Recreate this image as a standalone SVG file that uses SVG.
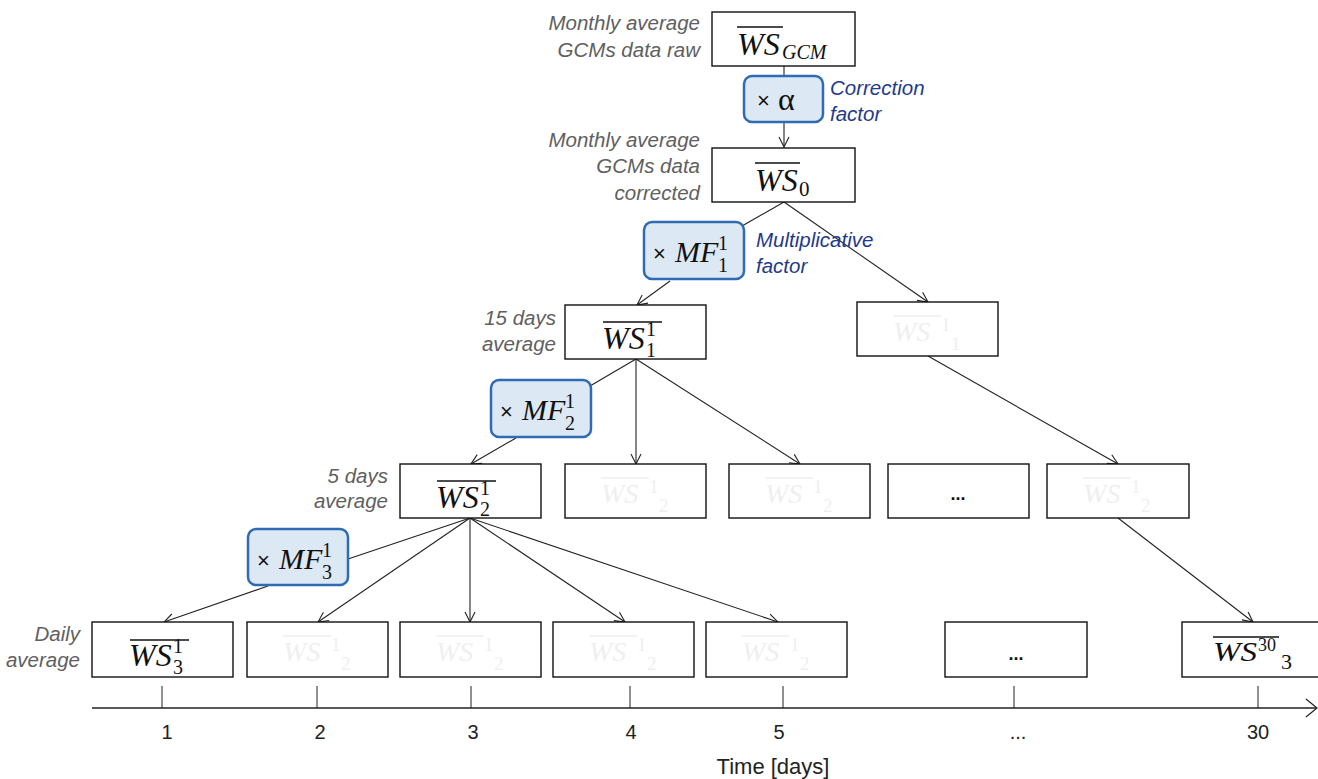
<svg xmlns="http://www.w3.org/2000/svg" width="1318" height="779" viewBox="0 0 1318 779">
<defs>
<marker id="arr" viewBox="0 0 12 12" refX="11" refY="6" markerWidth="12" markerHeight="12" markerUnits="userSpaceOnUse" orient="auto">
<path d="M1,1 L11,6 L1,11" fill="none" stroke="#222" stroke-width="1.1"/>
</marker>
<style>
.box{fill:#fff;stroke:#111;stroke-width:1.4}
.fac{fill:#dde8f5;stroke:#2e6bb2;stroke-width:2.5}
.lbl{font-family:"Liberation Sans",Arial,sans-serif;font-style:italic;font-size:20.5px;fill:#606060;text-anchor:end}
.blu{font-family:"Liberation Sans",Arial,sans-serif;font-style:italic;font-size:20.5px;fill:#1f3a8c}
.m{font-family:"Liberation Serif","Times New Roman",serif;font-style:italic;font-size:32px;fill:#111}
.mf{font-family:"Liberation Serif","Times New Roman",serif;font-style:italic;font-size:30px;fill:#111}
.ms{font-family:"Liberation Serif","Times New Roman",serif;font-size:20px;fill:#111}
.msi{font-family:"Liberation Serif","Times New Roman",serif;font-style:italic;font-size:21px;fill:#111}
.x{font-family:"Liberation Sans",Arial,sans-serif;font-size:22px;fill:#111}
.ov{stroke:#111;stroke-width:1.6}
.fm{font-family:"Liberation Serif",serif;font-style:italic;font-size:28px;fill:#efefef}
.fs{font-family:"Liberation Serif",serif;font-size:19px;fill:#efefef}
.fov{stroke:#efefef;stroke-width:1.5}
.ax{font-family:"Liberation Sans",Arial,sans-serif;font-size:20px;fill:#222;text-anchor:middle}
.c{fill:none;stroke:#222;stroke-width:1.1}
.dots{font-family:"Liberation Sans",Arial,sans-serif;font-size:18px;fill:#111;text-anchor:middle;font-weight:bold}
</style>
</defs>

<g id="connectors">
<line class="c" x1="784" y1="66" x2="784" y2="78"/>
<line class="c" x1="784" y1="122" x2="784" y2="147" marker-end="url(#arr)"/>
<line class="c" x1="784" y1="202" x2="742" y2="226"/>
<line class="c" x1="670" y1="281" x2="637" y2="305" marker-end="url(#arr)"/>
<line class="c" x1="784" y1="202" x2="928" y2="302" marker-end="url(#arr)"/>
<line class="c" x1="636" y1="359" x2="590" y2="386"/>
<line class="c" x1="516" y1="438" x2="471" y2="464" marker-end="url(#arr)"/>
<line class="c" x1="636" y1="359" x2="636" y2="464" marker-end="url(#arr)"/>
<line class="c" x1="636" y1="359" x2="800" y2="464" marker-end="url(#arr)"/>
<line class="c" x1="928" y1="356" x2="1118" y2="464" marker-end="url(#arr)"/>
<line class="c" x1="470" y1="518" x2="348" y2="559"/>
<line class="c" x1="268" y1="586" x2="164" y2="622" marker-end="url(#arr)"/>
<line class="c" x1="470" y1="518" x2="318" y2="622" marker-end="url(#arr)"/>
<line class="c" x1="470" y1="518" x2="470" y2="622" marker-end="url(#arr)"/>
<line class="c" x1="470" y1="518" x2="625" y2="622" marker-end="url(#arr)"/>
<line class="c" x1="470" y1="518" x2="778" y2="622" marker-end="url(#arr)"/>
<line class="c" x1="1118" y1="518" x2="1253" y2="622" marker-end="url(#arr)"/>
</g>

<g id="ws-gcm">
<rect class="box" x="712" y="12" width="143" height="54"/>
<line class="ov" x1="737" y1="27" x2="783" y2="27"/>
<text class="m" x="737" y="55">WS</text>
<text class="msi" x="782" y="59" style="font-size:20px">GCM</text>
<text class="lbl" x="700" y="30">Monthly average</text>
<text class="lbl" x="700" y="57">GCMs data raw</text>
</g>

<g id="alpha">
<rect class="fac" x="744" y="76" width="79" height="46" rx="8"/>
<text class="x" x="757" y="108">×</text>
<text x="778" y="110" style="font-family:'Liberation Serif',serif;font-size:32px;fill:#111">α</text>
<text class="blu" x="830" y="95">Correction</text>
<text class="blu" x="830" y="121">factor</text>
</g>

<g id="ws0">
<rect class="box" x="712" y="148" width="143" height="54"/>
<line class="ov" x1="755" y1="163" x2="800" y2="163"/>
<text class="m" x="755" y="191">WS</text>
<text class="ms" x="799" y="196" style="font-size:21px">0</text>
<text class="lbl" x="700" y="147">Monthly average</text>
<text class="lbl" x="700" y="173">GCMs data</text>
<text class="lbl" x="700" y="200">corrected</text>
</g>

<g id="mf1">
<rect class="fac" x="644" y="222" width="100" height="57" rx="8"/>
<text class="x" x="653" y="261">×</text>
<text class="mf" x="675" y="262">MF</text>
<text class="ms" x="718" y="250">1</text>
<text class="ms" x="718" y="272">1</text>
<text class="blu" x="756" y="247">Multiplicative</text>
<text class="blu" x="756" y="273">factor</text>
</g>

<g id="ws11">
<rect class="box" x="565" y="305" width="141" height="54"/>
<line class="ov" x1="603" y1="322" x2="662" y2="322"/>
<text class="m" x="602" y="349">WS</text>
<text class="ms" x="646" y="336">1</text>
<text class="ms" x="646" y="357">1</text>
<text class="lbl" x="556" y="325">15 days</text>
<text class="lbl" x="556" y="351">average</text>
</g>

<g id="ws11b">
<rect class="box" x="857" y="302" width="141" height="54"/>
<line class="fov" x1="893" y1="316" x2="941" y2="316"/>
<text class="fm" x="893" y="341">WS</text>
<text class="fs" x="941" y="331">1</text>
<text class="fs" x="951" y="350">1</text>
</g>

<g id="mf2">
<rect class="fac" x="491" y="380" width="100" height="57" rx="8"/>
<text class="x" x="500" y="419">×</text>
<text class="mf" x="522" y="420">MF</text>
<text class="ms" x="565" y="408">1</text>
<text class="ms" x="565" y="430">2</text>
</g>

<g id="ws21">
<rect class="box" x="400" y="464" width="141" height="54"/>
<line class="ov" x1="437" y1="481" x2="496" y2="481"/>
<text class="m" x="436" y="508">WS</text>
<text class="ms" x="480" y="495">1</text>
<text class="ms" x="480" y="516">2</text>
<text class="lbl" x="388" y="483">5 days</text>
<text class="lbl" x="388" y="508">average</text>
</g>

<g id="ws2-b">
<rect class="box" x="565" y="464" width="141" height="54"/>
<line class="fov" x1="601" y1="478" x2="649" y2="478"/>
<text class="fm" x="601" y="503">WS</text>
<text class="fs" x="649" y="493">1</text>
<text class="fs" x="659" y="512">2</text>
</g>
<g id="ws2-c">
<rect class="box" x="729" y="464" width="141" height="54"/>
<line class="fov" x1="765" y1="478" x2="813" y2="478"/>
<text class="fm" x="765" y="503">WS</text>
<text class="fs" x="813" y="493">1</text>
<text class="fs" x="823" y="512">2</text>
</g>
<g id="ws2-dots">
<rect class="box" x="888" y="464" width="141" height="54"/>
<text class="dots" x="958" y="500">...</text>
</g>
<g id="ws2-e">
<rect class="box" x="1047" y="464" width="142" height="54"/>
<line class="fov" x1="1083" y1="478" x2="1131" y2="478"/>
<text class="fm" x="1083" y="503">WS</text>
<text class="fs" x="1131" y="493">1</text>
<text class="fs" x="1141" y="512">2</text>
</g>

<g id="mf3">
<rect class="fac" x="248" y="529" width="100" height="56" rx="8"/>
<text class="x" x="257" y="568">×</text>
<text class="mf" x="279" y="569">MF</text>
<text class="ms" x="322" y="557">1</text>
<text class="ms" x="322" y="579">3</text>
</g>

<g id="ws31">
<rect class="box" x="92" y="622" width="141" height="55"/>
<line class="ov" x1="130" y1="640" x2="189" y2="640"/>
<text class="m" x="129" y="666">WS</text>
<text class="ms" x="173" y="653">1</text>
<text class="ms" x="173" y="674">3</text>
<text class="lbl" x="80" y="641">Daily</text>
<text class="lbl" x="80" y="667">average</text>
</g>

<g id="d2">
<rect class="box" x="247" y="622" width="141" height="55"/>
<line class="fov" x1="283" y1="636" x2="331" y2="636"/>
<text class="fm" x="283" y="661">WS</text>
<text class="fs" x="331" y="651">1</text>
<text class="fs" x="341" y="670">2</text>
</g>
<g id="d3">
<rect class="box" x="400" y="622" width="141" height="55"/>
<line class="fov" x1="436" y1="636" x2="484" y2="636"/>
<text class="fm" x="436" y="661">WS</text>
<text class="fs" x="484" y="651">1</text>
<text class="fs" x="494" y="670">2</text>
</g>
<g id="d4">
<rect class="box" x="553" y="622" width="141" height="55"/>
<line class="fov" x1="589" y1="636" x2="637" y2="636"/>
<text class="fm" x="589" y="661">WS</text>
<text class="fs" x="637" y="651">1</text>
<text class="fs" x="647" y="670">2</text>
</g>
<g id="d5">
<rect class="box" x="706" y="622" width="141" height="55"/>
<line class="fov" x1="742" y1="636" x2="790" y2="636"/>
<text class="fm" x="742" y="661">WS</text>
<text class="fs" x="790" y="651">1</text>
<text class="fs" x="800" y="670">2</text>
</g>
<g id="d-dots">
<rect class="box" x="945" y="622" width="142" height="55"/>
<text class="dots" x="1016" y="660">...</text>
</g>
<g id="d30">
<rect class="box" x="1182" y="622" width="142" height="55"/>
<line class="ov" x1="1213" y1="637" x2="1279" y2="637"/>
<text class="m" x="1213" y="661" style="font-size:28px" textLength="44" lengthAdjust="spacingAndGlyphs">WS</text>
<text class="ms" x="1258" y="651" style="font-size:18px">30</text>
<text class="ms" x="1281" y="669" style="font-size:22px">3</text>
</g>

<g id="axis">
<line x1="92" y1="708" x2="1316" y2="708" stroke="#222" stroke-width="1.3"/>
<path d="M1306,699 L1317,708 L1306,717" fill="none" stroke="#222" stroke-width="1.2"/>
<g stroke="#222" stroke-width="1">
<line x1="162" y1="686" x2="162" y2="708"/>
<line x1="317" y1="686" x2="317" y2="708"/>
<line x1="471" y1="686" x2="471" y2="708"/>
<line x1="630" y1="686" x2="630" y2="708"/>
<line x1="783" y1="686" x2="783" y2="708"/>
<line x1="1014" y1="686" x2="1014" y2="708"/>
<line x1="1258" y1="686" x2="1258" y2="708"/>
</g>
<text class="ax" x="167" y="739">1</text>
<text class="ax" x="320" y="739">2</text>
<text class="ax" x="473" y="739">3</text>
<text class="ax" x="631" y="739">4</text>
<text class="ax" x="779" y="739">5</text>
<text class="ax" x="1018" y="739">...</text>
<text class="ax" x="1258" y="739">30</text>
<text class="ax" x="773" y="774" style="font-size:22px">Time [days]</text>
</g>
</svg>
